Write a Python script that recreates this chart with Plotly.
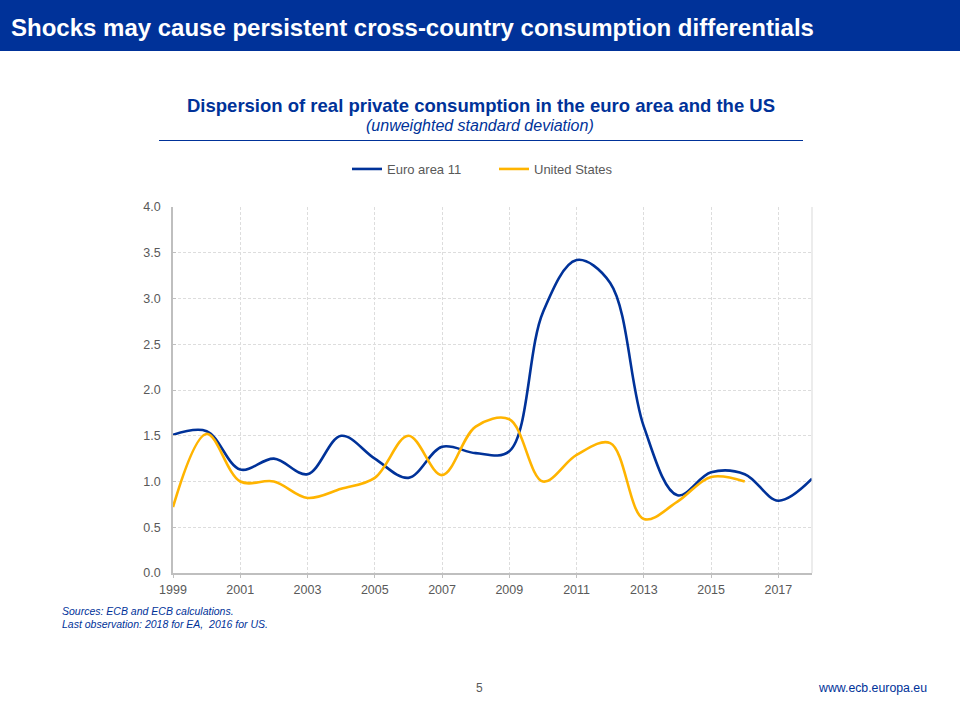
import plotly.graph_objects as go

years = list(range(1999, 2019))
euro_area = [1.51, 1.55, 1.13, 1.25, 1.08, 1.50, 1.25, 1.04, 1.38, 1.31, 1.33, 2.85, 3.42, 3.17, 1.60, 0.85, 1.10, 1.08, 0.79, 1.03]
us_years = list(range(1999, 2017))
united_states = [0.72, 1.52, 1.00, 1.00, 0.82, 0.92, 1.04, 1.50, 1.07, 1.60, 1.68, 1.00, 1.29, 1.42, 0.59, 0.78, 1.05, 1.00]

x_ticks = list(range(1999, 2019, 2))
y_ticks = [0, 0.5, 1, 1.5, 2, 2.5, 3, 3.5, 4]

BLUE = "#003299"
YELLOW = "#FFB400"
GREY = "#595959"
FONT = "Liberation Sans"

fig = go.Figure()
fig.add_trace(go.Scatter(x=years, y=euro_area, name="Euro area 11", mode="lines",
                         line=dict(color=BLUE, width=2.6, shape="spline", smoothing=1)))
fig.add_trace(go.Scatter(x=us_years, y=united_states, name="United States", mode="lines",
                         line=dict(color=YELLOW, width=2.6, shape="spline", smoothing=1)))

fig.update_layout(
    width=960, height=720,
    margin=dict(l=0, r=0, t=0, b=0, autoexpand=False),
    paper_bgcolor="white", plot_bgcolor="white",
    font=dict(family=FONT, size=12, color=GREY),
    showlegend=True,
    legend=dict(orientation="h", x=347 / 960, y=1 - 154 / 720, xanchor="left", yanchor="top",
                entrywidth=102, entrywidthmode="pixels", font=dict(size=13, color=GREY),
                bgcolor="rgba(0,0,0,0)", traceorder="normal"),
)
fig.update_xaxes(
    domain=[173 / 960, 812 / 960], range=[1999, 2018],
    tickmode="array", tickvals=x_ticks, ticks="outside", ticklen=3, tickcolor="#BFBFBF",
    showline=True, linecolor="#BFBFBF", linewidth=1.5,
    showgrid=True, gridcolor="#DDDDDD", griddash="3px,2px", gridwidth=1,
    tickfont=dict(size=12.5, color=GREY), zeroline=False, ticklabelstandoff=1,
)
fig.update_yaxes(
    domain=[147 / 720, 513 / 720], range=[0, 4],
    tickmode="array", tickvals=y_ticks, ticktext=[f"{v:.1f}" for v in y_ticks],
    ticks="inside", ticklen=3, tickcolor="#BFBFBF",
    showline=True, linecolor="#BFBFBF", linewidth=1.5,
    showgrid=True, gridcolor="#DDDDDD", griddash="3px,2px", gridwidth=1,
    tickfont=dict(size=12.5, color=GREY), zeroline=False, ticklabelstandoff=8,
)

# header band, rule under the chart title, right edge of the plot
fig.add_shape(type="rect", xref="paper", yref="paper", x0=0, x1=1, y0=1 - 51 / 720, y1=1,
              fillcolor=BLUE, line_width=0, layer="below")
fig.add_shape(type="line", xref="paper", yref="paper", x0=159 / 960, x1=803 / 960,
              y0=1 - 140.5 / 720, y1=1 - 140.5 / 720, line=dict(color=BLUE, width=1))
fig.add_shape(type="line", xref="x domain", yref="y domain", x0=1, x1=1, y0=0, y1=1,
              line=dict(color="#D9D9D9", width=1))


def label(text, x, y, size, color, anchor="left", **font_args):
    fig.add_annotation(text=text, xref="paper", yref="paper", x=x / 960, y=1 - y / 720,
                       xanchor=anchor, yanchor="middle", showarrow=False,
                       borderpad=0, borderwidth=0,
                       font=dict(family=FONT, size=size, color=color, **font_args))


label("<b>Shocks may cause persistent cross-country consumption differentials</b>", 11, 28, 24, "white")
label("<b>Dispersion of real private consumption in the euro area and the US</b>", 481, 105, 18.5, BLUE, "center")
label("<i>(unweighted standard deviation)</i>", 480, 125, 16, BLUE, "center")
label("<i>Sources: ECB and ECB calculations.</i>", 62, 611, 10.5, BLUE)
label("<i>Last observation: 2018 for EA,  2016 for US.</i>", 62, 624, 10.5, BLUE)
label("5", 479, 688, 12, GREY, "center")
label("www.ecb.europa.eu", 927, 688, 12.3, BLUE, "right")

# page has a default body margin, the chart should sit flush in the window
fig.write_html("out.html", config={"displayModeBar": False},
               post_script="document.body.style.margin='0';")
